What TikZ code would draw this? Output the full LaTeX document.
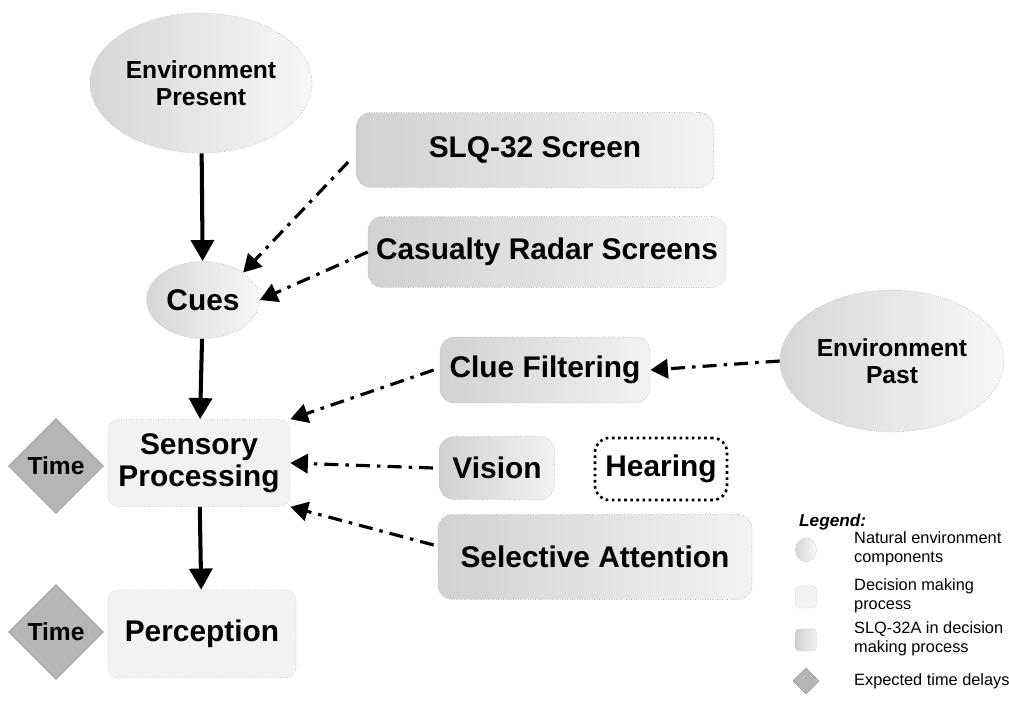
\documentclass[tikz,border=0pt]{standalone}
\usepackage{fontspec}
\setmainfont{Liberation Sans}
\usepackage{tikz}
\usetikzlibrary{shapes.geometric,arrows.meta}

\tikzset{
  natural/.style={ellipse, draw=gray!55, densely dotted, left color=gray!32, right color=gray!6, align=center, inner sep=0pt},
  decision/.style={rectangle, rounded corners=6pt, draw=gray!45, densely dotted, fill=gray!10, align=center},
  slqbox/.style={rectangle, rounded corners=8pt, draw=gray!55, densely dotted, left color=gray!36, right color=gray!10, align=center},
  delay/.style={diamond, draw=gray!75, fill=gray!58, inner sep=0pt, aspect=1},
  flow/.style={line width=2.3pt, -{Triangle[length=12pt,width=13pt]}},
  cue/.style={line width=1.8pt, dash pattern=on 8pt off 4pt on 2pt off 4pt, -{Triangle[length=10pt,width=11pt]}},
  big/.style={font=\fontsize{17}{18.5}\selectfont\bfseries},
  mid/.style={font=\fontsize{14}{15.5}\selectfont\bfseries},
  small/.style={font=\fontsize{9.3}{10.6}\selectfont, align=left, anchor=west}
}

\begin{document}
\begin{tikzpicture}[x=0.02cm,y=-0.02cm]
\useasboundingbox (0,0) rectangle (1009,709);

% natural environment
\node[natural, mid, minimum width=4.44cm, minimum height=2.8cm] (envpres) at (201,83) {Environment\\Present};
\node[natural, big, minimum width=2.26cm, minimum height=1.54cm] (cues) at (203,300) {Cues};
\node[natural, mid, minimum width=4.48cm, minimum height=2.84cm] (envpast) at (892,361) {Environment\\Past};

% SLQ-32 items
\node[slqbox, big, minimum width=7.14cm, minimum height=1.5cm] (slq) at (535,150) {SLQ-32 Screen};
\node[slqbox, big, minimum width=7.16cm, minimum height=1.42cm] (radar) at (547,252) {Casualty Radar Screens};
\node[slqbox, big, minimum width=4.2cm, minimum height=1.32cm] (clue) at (545,370) {Clue Filtering};
\node[slqbox, big, minimum width=2.3cm, minimum height=1.26cm] (vision) at (497,468) {Vision};
\node[rectangle, rounded corners=8pt, draw, line width=1.5pt, dotted, big, minimum width=2.64cm, minimum height=1.24cm] (hearing) at (661,469) {Hearing};
\node[slqbox, big, minimum width=6.28cm, minimum height=1.7cm] (attn) at (595,557) {Selective Attention};

% decision making
\node[decision, big, minimum width=3.64cm, minimum height=1.74cm] (sensory) at (199,463) {Sensory\\Processing};
\node[decision, big, minimum width=3.76cm, minimum height=1.76cm] (percept) at (202,634) {Perception};

% time delays
\node[delay, minimum size=1.9cm, font=\fontsize{14}{15}\selectfont\bfseries] (time1) at (56,466) {Time};
\node[delay, minimum size=1.9cm, font=\fontsize{14}{15}\selectfont\bfseries] (time2) at (56,632) {Time};

% connectors
\draw[flow] (envpres) -- (cues);
\draw[flow] (cues) -- (sensory);
\draw[flow] (sensory) -- (percept);
\draw[cue] (slq.west) ++(-8,12) coordinate (s1) (s1) -- (cues.north east);
\draw[cue] (radar.west) -- (cues.east);
\draw[cue] (clue.west) ++(-6,0) coordinate (c1) (c1) -- (sensory.north east);
\draw[cue] (vision.west) ++(-6,0) coordinate (v1) (v1) -- (sensory.east);
\draw[cue] (attn.west) ++(-4,-12) coordinate (a1) (a1) -- (sensory.south east);
\draw[cue] (envpast.west) -- (clue.east);

% legend
\node[anchor=west, font=\fontsize{9.8}{11}\selectfont\bfseries\itshape] (legend) at (793,522) {Legend:};
\node[natural, minimum width=0.42cm, minimum height=0.48cm] (leg1) at (806,550) {};
\node[small] (legt1) at (848,549) {Natural environment\\components};
\node[decision, rounded corners=2pt, minimum width=0.42cm, minimum height=0.44cm] (leg2) at (806,597) {};
\node[small] (legt2) at (848,596) {Decision making\\process};
\node[slqbox, rounded corners=2pt, minimum width=0.42cm, minimum height=0.44cm] (leg3) at (806,640) {};
\node[small] (legt3) at (848,639) {SLQ-32A in decision\\making process};
\node[delay, minimum size=0.52cm] (leg4) at (806,681) {};
\node[small] (legt4) at (848,681) {Expected time delays};
\end{tikzpicture}
\end{document}
